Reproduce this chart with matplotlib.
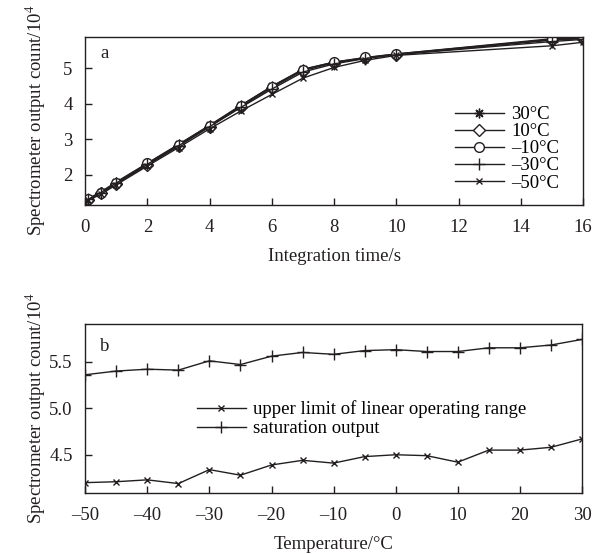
import matplotlib
matplotlib.use("Agg")
import matplotlib.pyplot as plt

plt.rcParams['font.family'] = ['Liberation Serif', 'DejaVu Serif']
plt.rcParams['mathtext.fontset'] = 'stix'

# panel a: output count vs integration time
t = [0, 0.1, 0.5, 1, 2, 3, 4, 5, 6, 7, 8, 9, 10, 15, 16]
a_30 = [1.27, 1.33, 1.52, 1.80, 2.33, 2.86, 3.40, 3.96, 4.50, 4.98, 5.18, 5.30, 5.41, 5.82, 5.86]
a_10 = [1.22, 1.30, 1.48, 1.75, 2.28, 2.81, 3.36, 3.92, 4.46, 4.94, 5.16, 5.29, 5.39, 5.80, 5.84]
a_m10 = [1.25, 1.32, 1.50, 1.78, 2.32, 2.85, 3.39, 3.95, 4.49, 4.97, 5.18, 5.31, 5.41, 5.84, 5.88]
a_m30 = [1.24, 1.31, 1.50, 1.77, 2.30, 2.82, 3.36, 3.90, 4.42, 4.90, 5.13, 5.28, 5.39, 5.76, 5.82]
a_m50 = [1.20, 1.28, 1.45, 1.72, 2.25, 2.77, 3.30, 3.80, 4.27, 4.73, 5.03, 5.23, 5.37, 5.64, 5.74]
a_labels = ['30°C', '10°C', '\u201310°C', '\u201330°C', '\u201350°C']

# panel b: vs temperature
temp = [-50, -45, -40, -35, -30, -25, -20, -15, -10, -5, 0, 5, 10, 15, 20, 25, 30]
linear_limit = [4.20, 4.21, 4.23, 4.19, 4.34, 4.28, 4.39, 4.44, 4.41, 4.48, 4.50, 4.49, 4.42, 4.55, 4.55, 4.58, 4.67]
saturation = [5.36, 5.40, 5.42, 5.41, 5.51, 5.47, 5.56, 5.60, 5.58, 5.62, 5.63, 5.61, 5.61, 5.65, 5.65, 5.68, 5.74]

ink = '#231f20'
fs = 13.5

fig = plt.figure(figsize=(6, 5.54), dpi=100)
ax1 = fig.add_axes([0.142, 0.630, 0.830, 0.304])
ax2 = fig.add_axes([0.142, 0.110, 0.828, 0.305])

asterisk = (8, 2, 0)
markers = [asterisk, 'D', 'o', '+', 'x']
msizes = [7, 6, 7, 8, 5]
for ys, m, ms, lab in zip([a_30, a_10, a_m10, a_m30, a_m50], markers, msizes, a_labels):
    ax1.plot(t, ys, color=ink, lw=1.0, marker=m, ms=ms, mfc='white' if m in ('D', 'o') else ink,
             mec=ink, mew=1.0, label=lab)

ax1.set_xlim(0, 16)
ax1.set_ylim(1.15, 5.9)
ax1.set_xticks(range(0, 17, 2))
ax1.set_yticks([2, 3, 4, 5])
ax1.set_xlabel('Integration time/s', fontsize=fs, color=ink, labelpad=9)
ax1.set_ylabel('Spectrometer output count/10$^4$', fontsize=fs, color=ink)
ax1.text(0.03, 0.87, 'a', transform=ax1.transAxes, fontsize=fs, color=ink)
ax1.legend(loc='lower right', bbox_to_anchor=(0.967, 0.035), frameon=False, fontsize=fs,
           handlelength=2.6, handletextpad=0.4, labelspacing=0.0, borderaxespad=0)

ax2.plot(temp, linear_limit, color=ink, lw=1.0, marker='x', ms=5, mew=1.0,
         label='upper limit of linear operating range')
ax2.plot(temp, saturation, color=ink, lw=1.0, marker='+', ms=8, mew=1.0,
         label='saturation output')
ax2.set_xlim(-50, 30)
ax2.set_ylim(4.088, 5.905)
ax2.set_xticks(range(-50, 31, 10))
ax2.set_xticklabels([str(v).replace('-', '\u2013') for v in range(-50, 31, 10)])
ax2.set_yticks([4.5, 5.0, 5.5])
ax2.set_yticklabels(['4.5', '5.0', '5.5'])
ax2.set_xlabel('Temperature/°C', fontsize=fs, color=ink, labelpad=9)
ax2.set_ylabel('Spectrometer output count/10$^4$', fontsize=fs, color=ink)
ax2.text(0.03, 0.84, 'b', transform=ax2.transAxes, fontsize=fs, color=ink)
ax2.legend(loc='center left', bbox_to_anchor=(0.21, 0.44), frameon=False, fontsize=fs,
           handlelength=2.6, handletextpad=0.4, labelspacing=0.1, borderaxespad=0)

for ax in (ax1, ax2):
    ax.tick_params(direction='in', labelsize=fs, colors=ink, length=5, width=1.0)
    ax.tick_params(axis='x', pad=10)
    ax.tick_params(axis='y', pad=9)
    ax.yaxis.set_label_coords(-0.075, 0.5)
    for s in ax.spines.values():
        s.set_color(ink)
        s.set_linewidth(1.0)

fig.savefig('out.png', dpi=100)
